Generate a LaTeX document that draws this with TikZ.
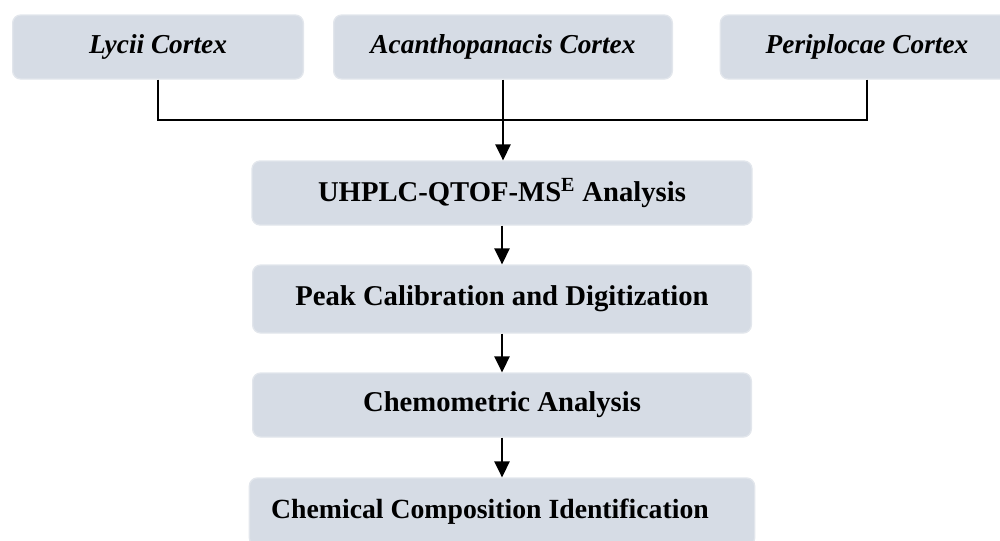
\documentclass[tikz,border=0pt]{standalone}
\usepackage{fontspec}
\setmainfont{Liberation Serif}
\usepackage{tikz}
\usetikzlibrary{arrows.meta}

\definecolor{boxfill}{RGB}{214,220,229}
\definecolor{boxline}{RGB}{226,230,236}

\tikzset{
  stagebox/.style={draw=boxline, line width=1pt, fill=boxfill, rounded corners=6pt,
    minimum height=48pt, inner sep=0pt, font=\fontsize{21.5}{24}\selectfont\bfseries},
  herbbox/.style={stagebox, font=\fontsize{20.5}{24}\selectfont\bfseries\itshape},
  link/.style={line width=1.5pt},
  flow/.style={link, -{Triangle[length=12pt,width=11.5pt]}}
}

\begin{document}
\begin{tikzpicture}[x=0.75pt,y=-0.75pt]
\useasboundingbox (0,0) rectangle (1000,540);

\node[herbbox, minimum width=218pt] (lycii) at (158,47) {Lycii Cortex};
\node[herbbox, minimum width=254pt] (acan) at (503,47) {Acanthopanacis Cortex};
\node[herbbox, minimum width=220pt] (peri) at (867,47) {Periplocae Cortex};

\node[stagebox, minimum width=375pt] (uhplc) at (502,193) {UHPLC-QTOF-MS\textsuperscript{E} Analysis};
\node[stagebox, minimum width=374pt, minimum height=51pt] (peak) at (502,299) {Peak Calibration and Digitization};
\node[stagebox, minimum width=374pt] (chemo) at (502,405) {Chemometric Analysis};
\node[stagebox, minimum width=379pt, minimum height=51pt,
  font=\fontsize{20.8}{24}\selectfont\bfseries] (ident) at (502,512) {\hspace*{-18pt}Chemical Composition Identification};

\coordinate (join) at (503,120);
\draw[link] (lycii.south) |- (join);
\draw[link] (peri.south) |- (join);
\draw[flow] (acan.south) -- (acan.south |- uhplc.north);
\draw[flow] (uhplc.south) -- (peak.north);
\draw[flow] (peak.south) -- (chemo.north);
\draw[flow] (chemo.south) -- (ident.north);
\end{tikzpicture}
\end{document}
